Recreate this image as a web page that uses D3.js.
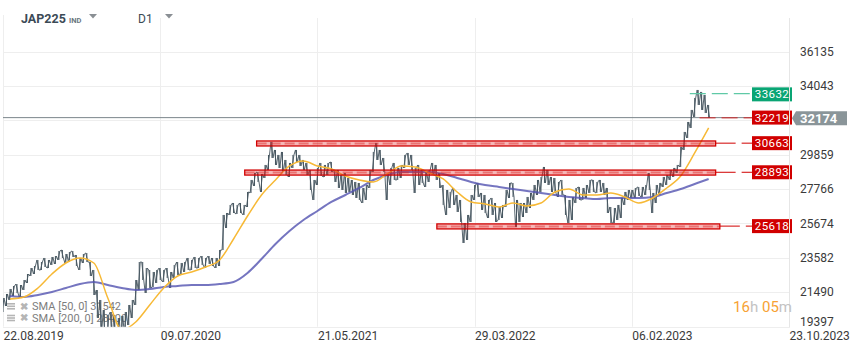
<!DOCTYPE html>
<html>
<head>
<meta charset="utf-8">
<script src="https://cdn.jsdelivr.net/npm/d3@7"></script>
<style>
  body { margin: 0; background: #fff; }
  #chart { width: 859px; height: 352px; }
  text { font-family: Roboto, "Noto Sans", sans-serif; }
</style>
</head>
<body>
<div id="chart"></div>
<script>
// weekly high/low samples (every 5 trading days from 22.08.2019)
const barStep = 5;
const priceHigh = [
    21142, 21386, 21690, 21872, 21994, 21933, 22237, 22602, 22967, 23089,
    23454, 23332, 23576, 23454, 23637, 23697, 24002, 24062, 23819, 23941,
    24002, 23758, 23576, 23819, 23880, 23332, 22846, 21629, 21021, 20412,
    20108, 20291, 20108, 19926, 20047, 20291, 20717, 21021, 22237, 23332,
    23332, 22967, 22846, 22724, 22846, 22967, 22846, 22967, 22724, 23150,
    23332, 23272, 23332, 23576, 23454, 23637, 23576, 23697, 23576, 23697,
    23576, 23576, 24062, 26192, 26313, 26800, 26921, 26800, 26921, 26800,
    27591, 28321, 28746, 28807, 28686, 29233, 29842, 30632, 30146, 29842,
    30024, 29537, 29355, 29842, 30146, 29842, 29537, 29355, 28929, 28321,
    29051, 29355, 29233, 29355, 29416, 28929, 28929, 28625, 28746, 28442,
    28321, 28199, 28138, 27834, 28016, 28929, 30024, 30571, 30146, 29659,
    28746, 29051, 29355, 29051, 29233, 29842, 29963, 29842, 29051, 29233,
    28929, 28807, 28929, 29355, 29233, 28746, 28016, 27712, 27591, 27834,
    27408, 27104, 25705, 26192, 27408, 28016, 28138, 27530, 27408, 27104,
    27226, 26921, 26678, 26800, 27712, 28138, 28138, 27104, 26921, 26921,
    27287, 27530, 28016, 28321, 28503, 29112, 28929, 28503, 28442, 28199,
    28321, 27408, 27104, 27287, 27834, 27895, 27834, 28016, 28321, 28321,
    28199, 28321, 28138, 27834, 26678, 26617, 26800, 27226, 27591, 27712,
    27712, 27834, 27895, 27895, 28016, 28746, 27530, 28016, 28138, 28503,
    28625, 28929, 29051, 29233, 30328, 31240, 31849, 32579, 33309, 33795,
    33674, 33491, 32883
];
const priceLow = [
    20291, 20656, 21021, 21264, 21447, 21142, 21629, 22055, 22481, 22602,
    22846, 22846, 23028, 22967, 23150, 23211, 23454, 23576, 23272, 23332,
    23637, 23089, 22846, 23272, 23332, 22481, 21325, 19926, 19196, 18588,
    18283, 18588, 18466, 18283, 18588, 19014, 19500, 19926, 20717, 21629,
    22237, 21447, 21751, 21812, 22055, 22237, 22116, 22359, 21751, 22359,
    22542, 22602, 22724, 22846, 22846, 22967, 22967, 23150, 22967, 23211,
    23089, 22967, 23089, 24062, 25401, 26192, 26313, 26252, 26313, 26192,
    26678, 27530, 27956, 28199, 27591, 28442, 28929, 29659, 29233, 29051,
    28807, 28625, 28503, 29051, 29416, 29172, 28929, 28625, 27712, 27104,
    28016, 28564, 28503, 28625, 28807, 28199, 27834, 27712, 27530, 27591,
    27408, 27226, 27104, 26921, 27104, 27834, 28807, 29537, 29233, 28807,
    27104, 28016, 28321, 28321, 28442, 29051, 29233, 28929, 27530, 28016,
    28138, 27895, 28199, 28625, 28321, 27834, 26800, 26192, 26617, 26800,
    26374, 25766, 24488, 24671, 25766, 27104, 27287, 26496, 26313, 26009,
    26192, 25766, 25887, 26009, 26678, 27226, 27287, 25462, 25766, 26070,
    26313, 26617, 27104, 27408, 27591, 28138, 28016, 27591, 27530, 27287,
    27408, 26192, 25705, 25887, 26921, 27104, 27104, 27226, 27530, 27591,
    27530, 27591, 27408, 26313, 25705, 25705, 25887, 26009, 26800, 27104,
    27226, 27226, 27347, 27287, 27408, 27712, 26313, 26921, 27408, 27895,
    28016, 28321, 28503, 28746, 29112, 30146, 30875, 31484, 32153, 32883,
    32579, 32396, 32092
];

// moving averages sampled every 20 bars, starting at bar 10
const smaStart = 10;
const smaStep = 20;
const sma50 = [
    21082, 21203, 21751, 22602, 23272, 23576, 23272, 21142, 19200, 19682,
    20717, 21751, 22481, 22724, 23028, 23454, 24732, 26131, 27408, 28321,
    29172, 29476, 29172, 28990, 28564, 28321, 28199, 28686, 29172, 29112,
    28746, 28381, 27591, 26982, 26861, 26678, 26921, 26739, 26921, 27591,
    27773, 27408, 27408, 27530, 27287, 26921, 27226, 27834, 28564, 29963,
    31484
];
const sma200 = [
    21264, 21203, 21325, 21507, 21751, 21994, 22116, 21933, 21751, 21629,
    21690, 21812, 21872, 21933, 21933, 21994, 22116, 22663, 23515, 24427,
    25218, 25887, 26435, 26982, 27408, 27834, 28321, 28625, 28807, 28807,
    28807, 28686, 28442, 28199, 28016, 27895, 27773, 27651, 27530, 27408,
    27287, 27226, 27165, 27226, 27226, 27226, 27287, 27530, 27773, 28077,
    28381
];
const smaLabels = ['SMA [50, 0] 31542', 'SMA [200, 0] 28400'];

const dateTickBars = [0, 225, 450, 675, 900, 1125];
const dateTickLabels = ['22.08.2019', '09.07.2020', '21.05.2021', '29.03.2022', '06.02.2023', '23.10.2023'];
const priceTicks = [19397, 21490, 23582, 25674, 27766, 29859, 31951, 34043, 36135];

const lastPrice = 32174;
const zoneLevels = [30663, 28893, 25618];
const zoneFromBar = [363, 346, 621];
const zoneToBar = [1020, 1020, 1026];
const targetLevel = 33632;
const targetFromBar = 983;
const stopLevel = 32219;
const stopFromBar = 997;
const countdown = [['16', 'h'], [' 05', 'm']];

function drawChart() {
    const container = d3.select('#chart');
    const W = 859, H = 352;
    const margin = {top: 18, right: 70, bottom: 25, left: 3};
    const plotRight = W - margin.right;
    const plotBottom = 326.7;

    const svg = container.append('svg')
        .attr('width', W)
        .attr('height', H);

    const x = d3.scaleLinear()
        .domain([0, 1125])
        .range([margin.left, plotRight]);

    const y = d3.scaleLinear()
        .domain([19397, 36135])
        .range([plotBottom, 51.5]);

    svg.append('defs').append('clipPath')
        .attr('id', 'plot-clip')
        .append('rect')
        .attr('x', margin.left)
        .attr('y', margin.top)
        .attr('width', plotRight - margin.left)
        .attr('height', plotBottom - margin.top);

    // grid
    const grid = svg.append('g').attr('stroke', '#eeeeee').attr('stroke-width', 1);
    grid.selectAll('.hgrid')
        .data(priceTicks)
        .join('line')
        .attr('x1', margin.left)
        .attr('x2', plotRight)
        .attr('y1', d => Math.round(y(d)) + 0.5)
        .attr('y2', d => Math.round(y(d)) + 0.5);
    grid.selectAll('.vgrid')
        .data(dateTickBars)
        .join('line')
        .attr('x1', d => Math.round(x(d)) + 0.5)
        .attr('x2', d => Math.round(x(d)) + 0.5)
        .attr('y1', (d, i) => i === 0 ? 15 : margin.top)
        .attr('y2', plotBottom);

    // header
    const header = svg.append('g').attr('fill', '#3b4a56');
    header.append('text').attr('x', 21).attr('y', 23)
        .style('font-size', '12.5px').style('font-weight', 'bold').text('JAP225');
    header.append('text').attr('x', 69).attr('y', 23).attr('fill', '#6b7780')
        .style('font-size', '7.5px').style('font-weight', 'bold').text('IND');
    header.append('text').attr('x', 138).attr('y', 23)
        .style('font-size', '12px').text('D1');
    [93, 169].forEach(cx => {
        header.append('path')
            .attr('d', `M${cx - 4},14 L${cx + 4},14 L${cx},18.5 Z`)
            .attr('fill', '#8a8f94');
    });

    // legend (price is drawn above it)
    const legend = svg.append('g');
    smaLabels.forEach((label, i) => {
        const cy = 306 + i * 11.7;
        const g = legend.append('g');
        [-3, -0.5, 2].forEach(dy => {
            g.append('rect').attr('x', 7).attr('y', cy + dy).attr('width', 8).attr('height', 1.6).attr('fill', '#b5b5b5');
        });
        g.append('text').attr('x', 20).attr('y', cy).attr('dy', '0.35em')
            .attr('fill', '#b5b5b5').style('font-size', '10px').style('font-weight', 'bold').text('\u2716');
        g.append('text').attr('x', 32).attr('y', cy).attr('dy', '0.35em')
            .attr('fill', '#7d7d7d').style('font-size', '11px').text(label);
    });

    const plot = svg.append('g').attr('clip-path', 'url(#plot-clip)');

    // last price line
    plot.append('line')
        .attr('x1', 0).attr('x2', plotRight)
        .attr('y1', y(lastPrice) + 1).attr('y2', y(lastPrice) + 1)
        .attr('stroke', '#7b858b').attr('stroke-width', 1);

    // price bars
    const bars = priceHigh.map((h, i) => ({bar: i * barStep, high: h, low: priceLow[i]}));
    plot.selectAll('.bar')
        .data(bars)
        .join('line')
        .attr('class', 'bar')
        .attr('x1', d => x(d.bar))
        .attr('x2', d => x(d.bar))
        .attr('y1', d => y(d.high))
        .attr('y2', d => y(d.low))
        .attr('stroke', '#45555f')
        .attr('stroke-width', 1);

    const pts = [];
    bars.forEach((d, i) => {
        const next = bars[i + 1] || d;
        const rising = next.high + next.low > d.high + d.low;
        pts.push([x(d.bar) - 1, y(rising ? d.low : d.high)]);
        pts.push([x(d.bar) + 1, y(rising ? d.high : d.low)]);
    });
    plot.append('path')
        .attr('d', d3.line()(pts))
        .attr('fill', 'none')
        .attr('stroke', '#45555f')
        .attr('stroke-width', 0.9);

    // moving averages
    const smaLine = d3.line()
        .x((d, i) => x(smaStart + i * smaStep))
        .y(d => y(d))
        .curve(d3.curveMonotoneX);
    plot.append('path')
        .attr('d', smaLine(sma200))
        .attr('fill', 'none')
        .attr('stroke', '#5252b0')
        .attr('stroke-opacity', 0.8)
        .attr('stroke-width', 2);
    plot.append('path')
        .attr('d', smaLine(sma50))
        .attr('fill', 'none')
        .attr('stroke', '#f7b936')
        .attr('stroke-width', 1.5);

    // support / resistance zones
    const boxLeft = plotRight - 37;
    const red = '#d10000';
    zoneLevels.forEach((lvl, i) => {
        const top = y(lvl) - 0.5;
        plot.append('rect')
            .attr('x', x(zoneFromBar[i]))
            .attr('y', top)
            .attr('width', x(zoneToBar[i]) - x(zoneFromBar[i]))
            .attr('height', 5)
            .attr('fill', 'rgba(225, 30, 30, 0.32)')
            .attr('stroke', red)
            .attr('stroke-width', 1.3);
        plot.append('line')
            .attr('x1', x(zoneFromBar[i])).attr('x2', x(zoneToBar[i]))
            .attr('y1', top + 2.5).attr('y2', top + 2.5)
            .attr('stroke', 'rgba(225, 30, 30, 0.45)')
            .attr('stroke-width', 2)
            .attr('stroke-dasharray', '10,4');
        svg.append('line')
            .attr('x1', x(zoneToBar[i])).attr('x2', boxLeft)
            .attr('y1', y(lvl) + 1.7).attr('y2', y(lvl) + 1.7)
            .attr('stroke', red)
            .attr('stroke-width', 1)
            .attr('stroke-dasharray', '20,6');
    });

    svg.append('line')
        .attr('x1', x(targetFromBar)).attr('x2', boxLeft)
        .attr('y1', y(targetLevel) + 1).attr('y2', y(targetLevel) + 1)
        .attr('stroke', '#5fc9a6')
        .attr('stroke-width', 1.3)
        .attr('stroke-dasharray', '16,6');
    svg.append('line')
        .attr('x1', x(stopFromBar)).attr('x2', boxLeft)
        .attr('y1', y(stopLevel) + 1.8).attr('y2', y(stopLevel) + 1.8)
        .attr('stroke', 'rgba(215, 20, 20, 0.6)')
        .attr('stroke-width', 1.5)
        .attr('stroke-dasharray', '16,6');

    // level boxes
    const levelBoxes = [
        {v: targetLevel, c: '#0aa574'},
        {v: stopLevel, c: red},
        ...zoneLevels.map(v => ({v, c: red}))
    ];
    levelBoxes.forEach(b => {
        const cy = y(b.v) + 1.7;
        svg.append('rect')
            .attr('x', boxLeft).attr('y', cy - 7)
            .attr('width', 40).attr('height', 14)
            .attr('fill', b.c);
        svg.append('text')
            .attr('x', boxLeft + 20).attr('y', cy).attr('dy', '0.36em')
            .attr('text-anchor', 'middle')
            .attr('fill', '#fff')
            .style('font-size', '11.5px')
            .style('letter-spacing', '0.4px')
            .text(b.v);
    });

    // right axis
    svg.append('line')
        .attr('x1', plotRight + 0.5).attr('x2', plotRight + 0.5)
        .attr('y1', margin.top).attr('y2', plotBottom + 1)
        .attr('stroke', '#e6e6e6');

    const priceY = y(lastPrice) + 1.5;
    svg.selectAll('.ytick')
        .data(priceTicks.filter(v => Math.abs(y(v) - priceY) > 10))
        .join('text')
        .attr('x', plotRight + 11)
        .attr('y', d => Math.min(y(d), plotBottom - 5))
        .attr('dy', '0.35em')
        .attr('fill', '#3a3a3a')
        .style('font-size', '12px')
        .text(d => d);

    const px = plotRight + 3;
    svg.append('path')
        .attr('d', `M${px},${priceY} L${px + 4},${priceY - 7} L${px + 55},${priceY - 7} L${px + 55},${priceY + 7} L${px + 4},${priceY + 7} Z`)
        .attr('fill', '#8a9599');
    svg.append('text')
        .attr('x', px + 8).attr('y', priceY).attr('dy', '0.36em')
        .attr('fill', '#fff')
        .style('font-size', '13px')
        .style('font-weight', 'bold')
        .text(lastPrice);

    // date axis
    svg.selectAll('.xtick')
        .data(dateTickBars)
        .join('text')
        .attr('x', d => x(d) + 0.5)
        .attr('y', 340)
        .attr('fill', '#3a3a3a')
        .style('font-size', '12px')
        .text((d, i) => dateTickLabels[i]);

    // countdown
    const cd = svg.append('text')
        .attr('x', plotRight + 3).attr('y', 306.5).attr('dy', '0.36em')
        .attr('text-anchor', 'end')
        .style('font-size', '15px');
    countdown.forEach(([num, unit]) => {
        cd.append('tspan').attr('fill', '#f7a234').text(num);
        cd.append('tspan').attr('fill', '#c3c3c3').text(unit);
    });
}

drawChart();
</script>
</body>
</html>
